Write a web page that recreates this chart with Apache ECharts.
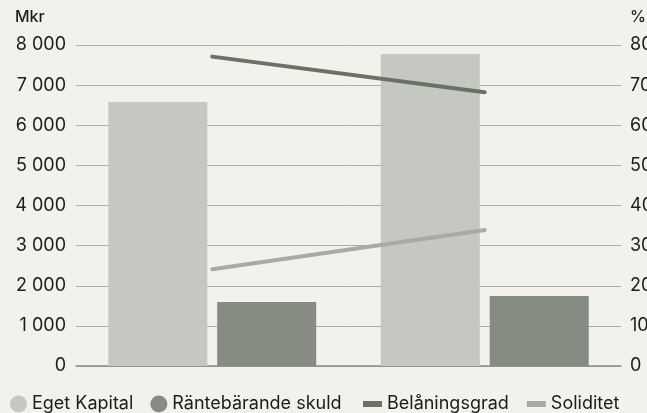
<!DOCTYPE html>
<html><head><meta charset="utf-8">
<script src="https://cdn.jsdelivr.net/npm/echarts@6/dist/echarts.min.js"></script>
<style>html,body{margin:0;padding:0;background:#f3f1ec}#c{width:647px;height:413px}</style>
</head><body><div id="c"></div>
<script>
const categories = ['2022', '2023'];
const egetKapital = [6580, 7775];
const rantebarandeSkuld = [1595, 1745];
const belaningsgrad = [77.1, 68.2];
const soliditet = [24.1, 33.9];
const leftTicks = ['0','1 000','2 000','3 000','4 000','5 000','6 000','7 000','8 000'];
const rightTicks = ['0','10','20','30','40','50','60','70','80'];

const FONT = 'Inter';
const TXT = '#1c1c1c';
const chart = echarts.init(document.getElementById('c'), null, {renderer:'canvas'});
chart.setOption({
  backgroundColor:'#f3f1ec',
  animation:false,
  textStyle:{fontFamily:FONT},
  title:[
    {text:'Mkr', left:15, top:9, padding:0, textStyle:{fontFamily:FONT,fontSize:16,fontWeight:500,color:TXT}},
    {text:'%', left:630, top:9, padding:0, textStyle:{fontFamily:FONT,fontSize:16,fontWeight:500,color:TXT}}
  ],
  grid:{left:76, right:26, top:45, bottom:47, containLabel:false, outerBoundsMode:'none'},
  legend:[
    {left:10, top:395, padding:0, itemWidth:17, itemHeight:17, itemGap:17, itemTextGap:8, icon:'circle',
     textStyle:{fontFamily:FONT,fontSize:18,color:TXT},
     data:['Eget Kapital','Räntebärande skuld']},
    {left:363, top:395, padding:0, itemWidth:19, itemHeight:6, itemGap:18, itemTextGap:4, icon:'rect',
     textStyle:{fontFamily:FONT,fontSize:18,color:TXT},
     data:['Belåningsgrad','Soliditet']}
  ],
  xAxis:{type:'category', data:categories, boundaryGap:true,
    axisLine:{show:true, lineStyle:{color:'#8d8e88', width:1.5}},
    axisTick:{show:false}, axisLabel:{show:false}},
  yAxis:[
    {type:'value', min:0, max:8000, interval:1000, position:'left',
     axisLine:{show:false}, axisTick:{show:false},
     axisLabel:{margin:10, fontFamily:FONT, fontSize:18, color:TXT,
       formatter:(v)=>leftTicks[Math.round(v/1000)]},
     splitLine:{show:true, lineStyle:{color:'#acaba5', width:1}}},
    {type:'value', min:0, max:80, interval:10, position:'right',
     axisLine:{show:false}, axisTick:{show:false},
     axisLabel:{margin:9, fontFamily:FONT, fontSize:18, color:TXT,
       formatter:(v)=>rightTicks[Math.round(v/10)]},
     splitLine:{show:false}}
  ],
  series:[
    {name:'Eget Kapital', type:'bar', data:egetKapital, barWidth:99, barGap:'10%',
     itemStyle:{color:'#c5c7c1'}},
    {name:'Räntebärande skuld', type:'bar', data:rantebarandeSkuld, barWidth:99,
     itemStyle:{color:'#878c82'}},
    {name:'Belåningsgrad', type:'line', yAxisIndex:1, data:belaningsgrad, symbol:'none',
     lineStyle:{color:'#6b7165', width:4, cap:'round'}, itemStyle:{color:'#6b7165'}},
    {name:'Soliditet', type:'line', yAxisIndex:1, data:soliditet, symbol:'none',
     lineStyle:{color:'#a8aba4', width:4, cap:'round'}, itemStyle:{color:'#a8aba4'}}
  ]
});
</script></body></html>
